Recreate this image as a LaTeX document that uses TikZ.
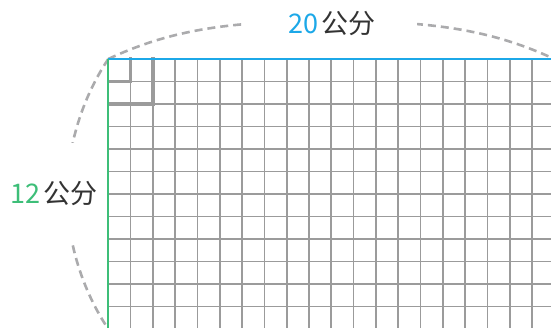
\documentclass[tikz,border=0pt]{standalone}
\usepackage{fontspec}
\setmainfont{Noto Sans CJK SC}
\definecolor{gridgray}{HTML}{9B9B9B}
\definecolor{dimgray}{HTML}{ABABAD}
\definecolor{topblue}{HTML}{1CA8E8}
\definecolor{sidegreen}{HTML}{3DBE78}
\definecolor{txtgray}{HTML}{333333}
\tikzset{
  gridline/.style={draw=gridgray, line width=1.7pt},
  thickline/.style={draw=gridgray, line width=3.4pt},
  dimline/.style={draw=dimgray, line width=2.6pt, dash pattern=on 8pt off 5pt},
  dimlabel/.style={font=\fontsize{27}{30}\selectfont, fill=white, anchor=base},
}
\begin{document}
\begin{tikzpicture}[x=1pt,y=-1pt]
\useasboundingbox (0,0) rectangle (551,328);
\clip (0,0) rectangle (551,328);
\coordinate (tl) at (108.3,59);
\coordinate (tr) at (554.3,59);
\coordinate (bl) at (108.3,329);
% grid
\foreach \i in {0,...,20}
  \draw[gridline] ({108.3+22.3*\i},59) -- ({108.3+22.3*\i},330);
\foreach \j in {0,...,12}
  \draw[gridline] (108.3,{59+22.5*\j}) -- (555,{59+22.5*\j});
% highlighted unit squares
\draw[thickline, line cap=rect] (130.6,59) -- (130.6,81.5) -- (108.3,81.5);
\draw[thickline, line cap=rect] (152.9,59) -- (152.9,104) -- (108.3,104);
% dimension arcs
\draw[dimline] (tl) .. controls (171.4,29.4) and (231,21) .. (331,21)
  .. controls (431,21) and (490.6,29.4) .. (tr);
\draw[dimline] (tl) .. controls (82.2,97.8) and (67,147.2) .. (67,194)
  .. controls (67,240.8) and (82.2,290.2) .. (bl);
% edges
\draw[topblue, line width=2pt] (tl) -- (tr);
\draw[sidegreen, line width=2pt] (tl) -- (bl);
% labels
\node[dimlabel, inner xsep=42pt, inner ysep=4pt] (wlabel) at (331.7,33.3)
  {\textcolor{topblue}{20}\hspace{3pt}\textcolor{txtgray}{公分}};
\node[dimlabel, inner xsep=1pt, inner ysep=38pt] (hlabel) at (54,203.3)
  {\textcolor{sidegreen}{12}\hspace{3pt}\textcolor{txtgray}{公分}};
\end{tikzpicture}
\end{document}
